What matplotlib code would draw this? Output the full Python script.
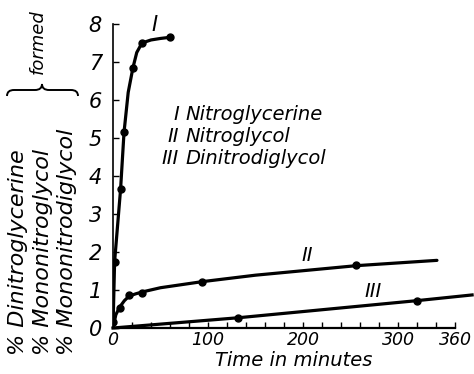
import matplotlib
matplotlib.use("Agg")
import matplotlib.pyplot as plt
from matplotlib.path import Path
from matplotlib.patches import PathPatch

plt.rcParams['font.family'] = ['DejaVu Sans']
plt.rcParams['font.style'] = 'italic'

# Curve I - Nitroglycerine
t1_dots = [1.7, 8, 11.6, 21, 30.5, 60]
y1_dots = [1.75, 3.66, 5.15, 6.85, 7.5, 7.65]
t1_line = [0, 1.7, 8, 11.6, 16, 21, 25, 30.5, 40, 50, 60]
y1_line = [0, 1.75, 3.66, 5.15, 6.2, 6.85, 7.25, 7.5, 7.58, 7.62, 7.65]

# Curve II - Nitroglycol
t2_dots = [0, 7, 17, 31, 94, 256]
y2_dots = [0.15, 0.52, 0.88, 0.92, 1.22, 1.67]
t2_line = [0, 3, 7, 12, 17, 24, 31, 50, 94, 150, 256, 341]
y2_line = [0, 0.35, 0.55, 0.72, 0.84, 0.9, 0.95, 1.06, 1.22, 1.39, 1.64, 1.78]

# Curve III - Dinitrodiglycol
t3_dots = [132, 320]
y3_dots = [0.27, 0.72]
t3_line = [0, 132, 320, 378]
y3_line = [0, 0.27, 0.72, 0.87]

x_ticks = [0, 100, 200, 300, 360]
y_ticks = [0, 1, 2, 3, 4, 5, 6, 7, 8]

W, H = 474, 374
fig = plt.figure(figsize=(W / 100, H / 100), dpi=100)
ax = fig.add_axes([113 / W, 1 - 328 / H, (455 - 113) / W, (328 - 24) / H])

lw = 2.3
ax.plot(t1_line, y1_line, color="black", lw=lw, solid_capstyle="round")
ax.plot(t1_dots, y1_dots, "o", color="black", ms=5)
ax.plot(t2_line, y2_line, color="black", lw=lw, solid_capstyle="round")
ax.plot(t2_dots, y2_dots, "o", color="black", ms=5)
ax.plot(t3_line, y3_line, color="black", lw=lw, clip_on=False)
ax.plot(t3_dots, y3_dots, "o", color="black", ms=5, clip_on=False)

ax.set_xlim(0, 360)
ax.set_ylim(0, 8)
ax.spines["top"].set_visible(False)
ax.spines["right"].set_visible(False)
ax.spines["left"].set_linewidth(1.2)
ax.spines["bottom"].set_linewidth(1.6)

ax.set_xticks(x_ticks)
ax.set_xticks(range(0, 361, 20), minor=True)
ax.set_yticks(y_ticks)
ax.tick_params(which="both", direction="in", length=4, width=1)
ax.tick_params(axis="x", labelsize=12.5, pad=2)
ax.tick_params(axis="y", labelsize=15, pad=8)

# curve labels
ax.text(204, 1.9, "II", fontsize=14, ha="center", va="center")
ax.text(274, 0.95, "III", fontsize=14, ha="center", va="center")
fig.text(155 / W, 1 - 25 / H, "I", fontsize=15, ha="center", va="center")

# key
key_nums = ["I", "II", "III"]
key_names = ["Nitroglycerine", "Nitroglycol", "Dinitrodiglycol"]
key_y = [115, 137, 159]
for num, name, yy in zip(key_nums, key_names, key_y):
    fig.text(179 / W, 1 - yy / H, num, fontsize=14, ha="right", va="center")
    fig.text(185 / W, 1 - yy / H, name, fontsize=14, ha="left", va="center")

fig.text(294 / W, 1 - 361 / H, "Time in minutes", fontsize=14, ha="center", va="center")

# y-axis label with brace
ylab = ["% Dinitroglycerine", "% Mononitroglycol", "% Mononitrodiglycol"]
ylab_x = [18, 43, 67]
for txt, xx in zip(ylab, ylab_x):
    fig.text(xx / W, 1 - 355 / H, txt, fontsize=16, rotation=90,
             rotation_mode="anchor", ha="left", va="center")

def px(x, y):
    return (x / W, 1 - y / H)

verts = [px(7, 96), px(7, 90), px(14, 90), px(35, 90),
         px(42, 90), px(42, 84), px(42, 90), px(49, 90),
         px(71, 90), px(78, 90), px(78, 96)]
codes = [Path.MOVETO, Path.CURVE3, Path.CURVE3, Path.LINETO,
         Path.CURVE3, Path.CURVE3, Path.CURVE3, Path.CURVE3,
         Path.LINETO, Path.CURVE3, Path.CURVE3]
fig.patches.append(PathPatch(Path(verts, codes), transform=fig.transFigure,
                             fill=False, lw=1.4, color="black"))
fig.text(38 / W, 1 - 74 / H, "formed", fontsize=13, rotation=90,
         rotation_mode="anchor", ha="left", va="center")

fig.savefig("out.png", dpi=100)
